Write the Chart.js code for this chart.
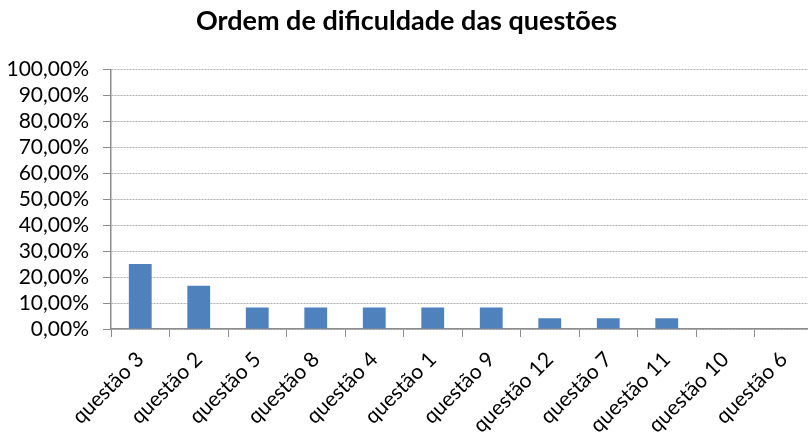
<!DOCTYPE html>
<html>
<head>
<meta charset="utf-8">
<script src="https://cdn.jsdelivr.net/npm/chart.js@4.4.1/dist/chart.umd.min.js"></script>
<style>
html,body{margin:0;padding:0;background:#fff;overflow:hidden;}
#wrap{width:814px;height:435px;}
</style>
</head>
<body>
<div id="wrap"><canvas id="c" width="814" height="435"></canvas></div>
<script>
const titleText = "Ordem de dificuldade das questões";
const categories = ["questão 3","questão 2","questão 5","questão 8","questão 4","questão 1","questão 9","questão 12","questão 7","questão 11","questão 10","questão 6"];
const values = [25, 16.67, 8.33, 8.33, 8.33, 8.33, 8.33, 4.17, 4.17, 4.17, 0, 0];
const yMin = 0, yMax = 100, yStep = 10;

const FONT = "Lato, 'Liberation Sans', sans-serif";
const AX = '#8c8c8c';

new Chart(document.getElementById('c'), {
  type: 'bar',
  data: {
    labels: categories,
    datasets: [{
      data: values,
      backgroundColor: '#4F81BD',
      borderWidth: 0,
      barPercentage: 0.39,
      categoryPercentage: 1
    }]
  },
  options: {
    responsive: false,
    animation: false,
    layout: { padding: { top: 0, right: 1, left: 0, bottom: 0 } },
    plugins: {
      legend: { display: false },
      tooltip: { enabled: false },
      title: {
        display: true,
        text: titleText,
        color: '#000',
        font: { family: FONT, size: 27, weight: 'bold', lineHeight: 1.2 },
        padding: { top: 5, bottom: 32 }
      }
    },
    scales: {
      x: {
        grid: { display: true, drawOnChartArea: false, offset: true, color: AX, tickLength: 8 },
        border: { display: true, color: AX, width: 1.5 },
        ticks: {
          color: '#000',
          font: { family: FONT, size: 21 },
          maxRotation: 45, minRotation: 45,
          autoSkip: false,
          padding: 10
        },
        afterFit: s => { s.height = 106; }
      },
      y: {
        min: yMin, max: yMax,
        grid: { color: '#b0b0b0', tickLength: 8, tickColor: AX, tickBorderDash: [] },
        border: { display: true, color: AX, width: 1.5, dash: [2, 1] },
        ticks: {
          stepSize: yStep,
          autoSkip: false,
          color: '#000',
          font: { family: FONT, size: 21, lineHeight: 1 },
          padding: 14,
          callback: v => v.toFixed(2).replace('.', ',') + '%'
        },
        afterFit: s => { s.width = 111; }
      }
    }
  }
});
</script>
</body>
</html>
